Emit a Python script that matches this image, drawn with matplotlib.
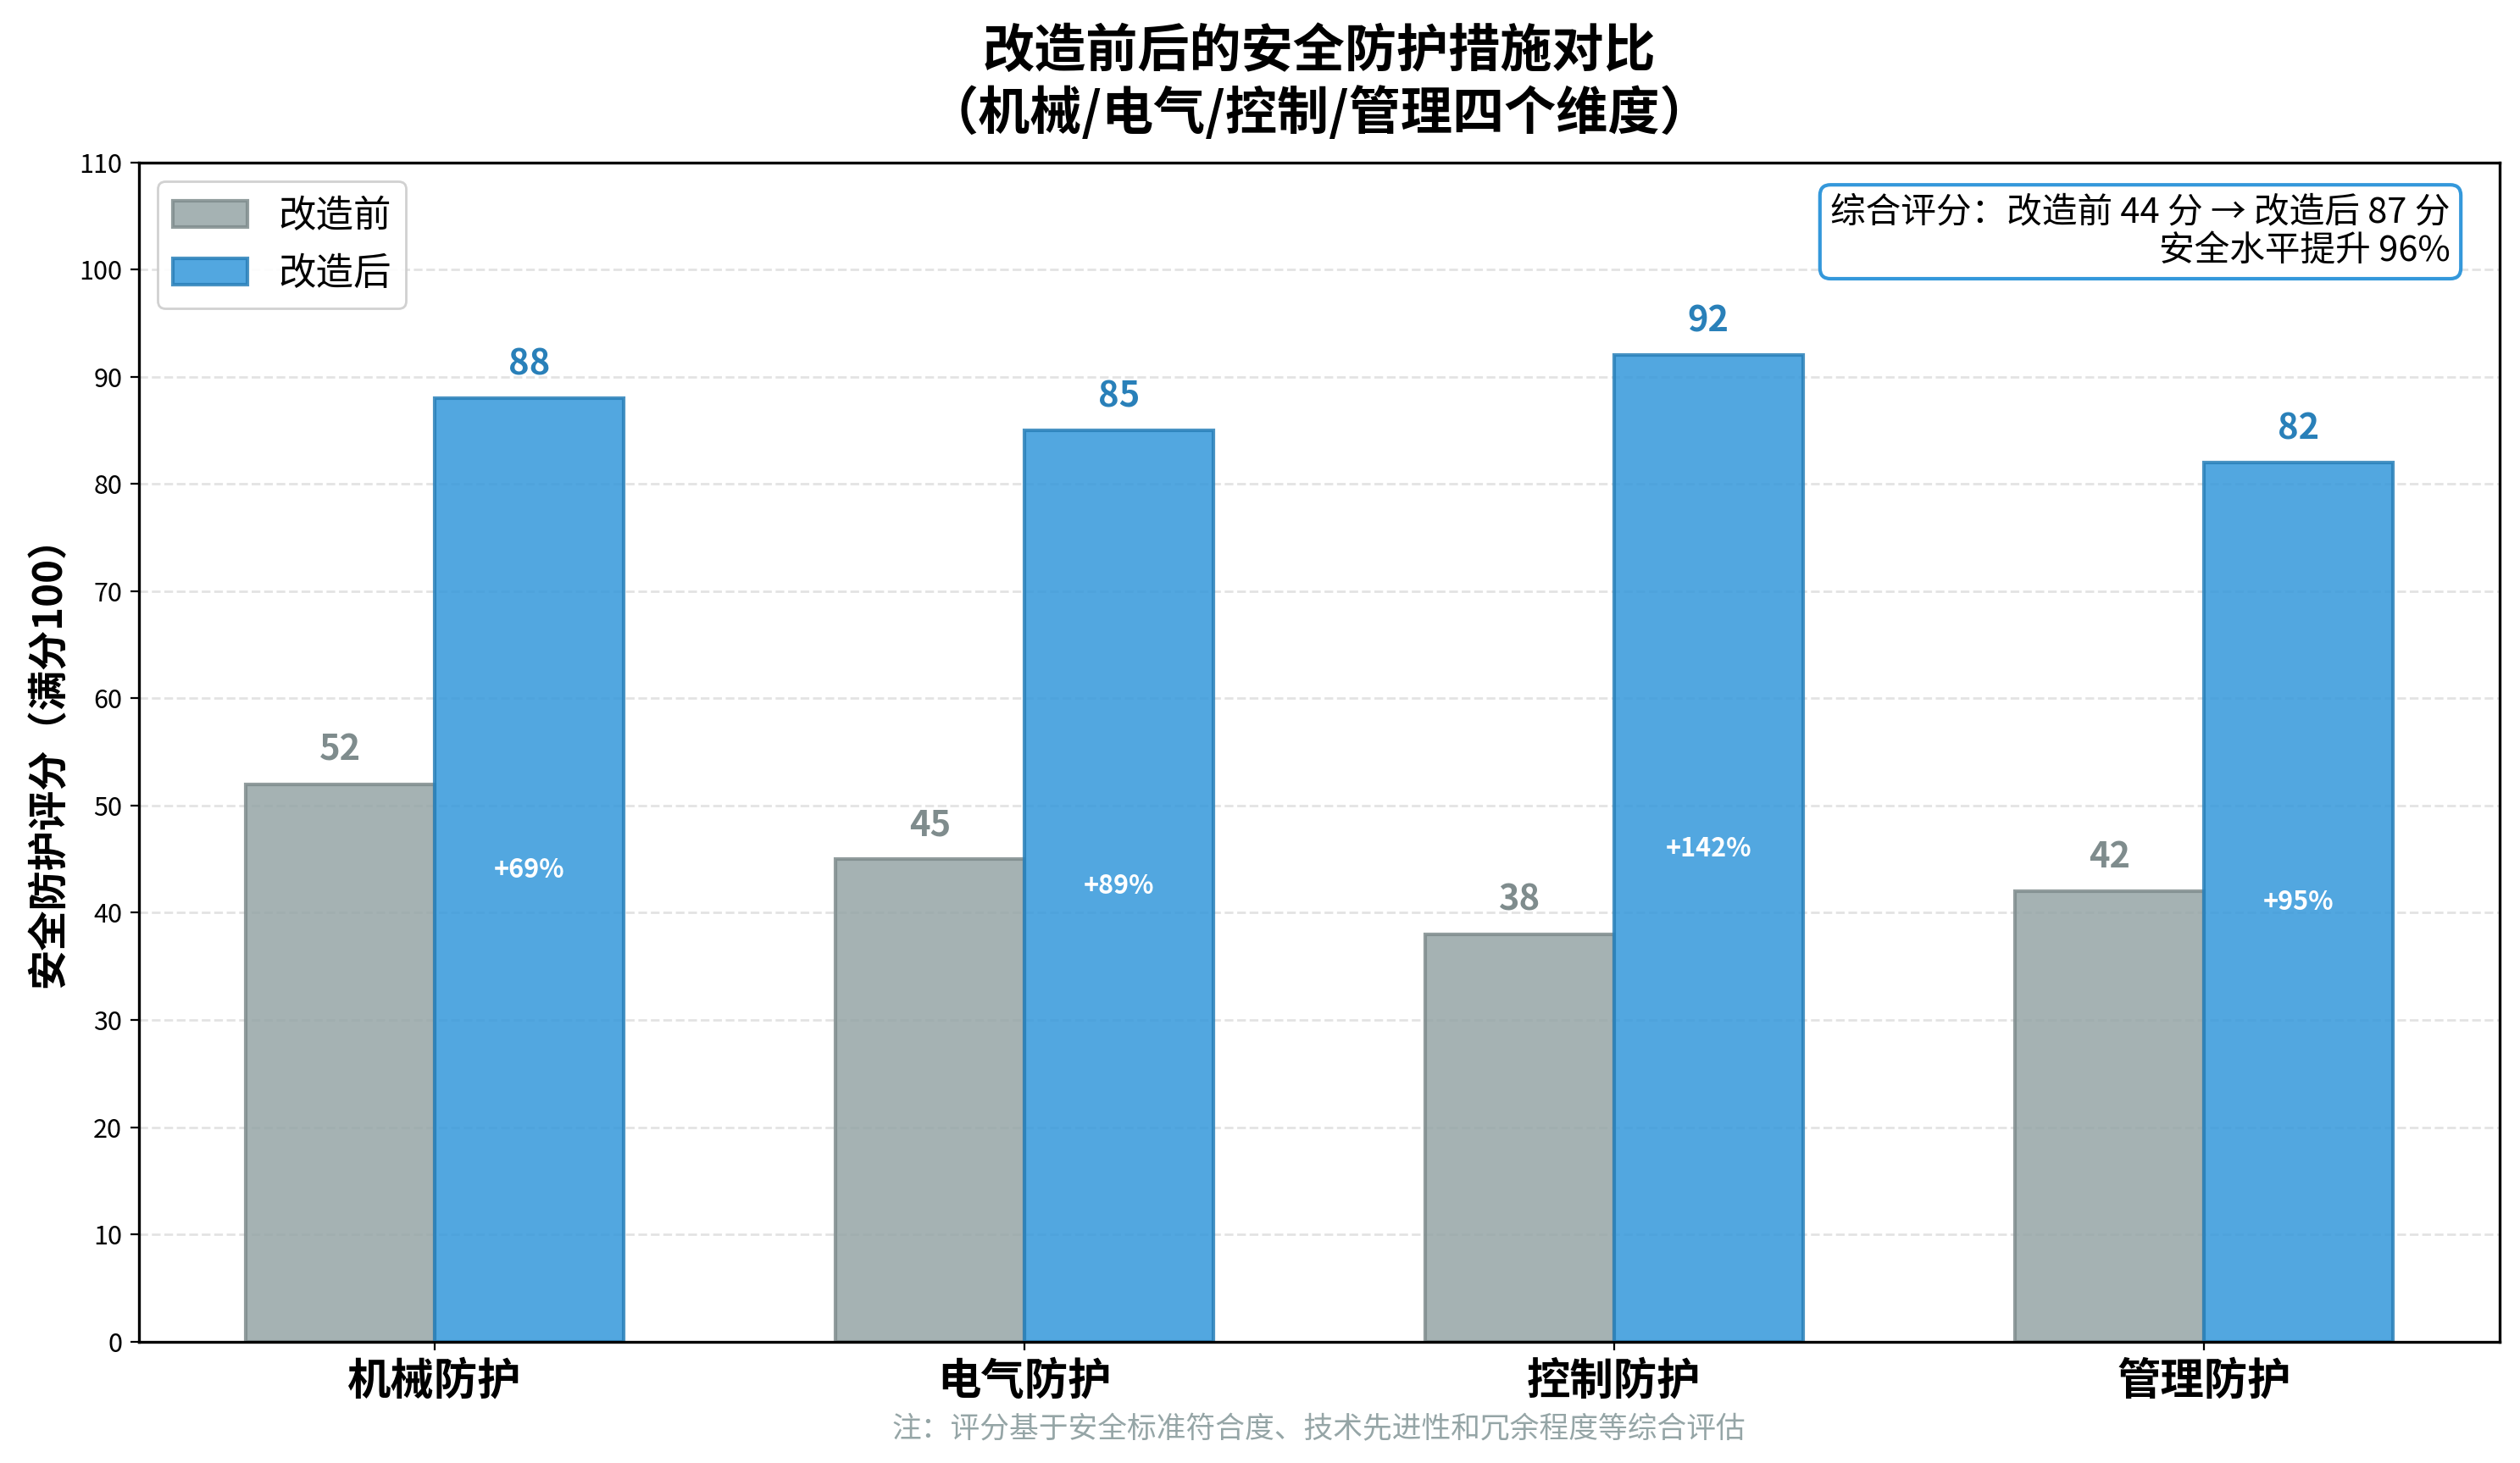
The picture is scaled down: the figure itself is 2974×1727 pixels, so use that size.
import matplotlib
matplotlib.use("Agg")
from matplotlib import pyplot as plt
import numpy as np

plt.rcParams['font.family'] = ['Noto Sans CJK SC', 'DejaVu Sans']
plt.rcParams['axes.unicode_minus'] = False

categories = ["机械防护", "电气防护", "控制防护", "管理防护"]
before = [52, 45, 38, 42]
after = [88, 85, 92, 82]
avg_before = 44
avg_after = 87
overall_gain = 96

before = np.array(before)
after = np.array(after)
gain = (after - before) / before * 100

x = np.arange(len(categories))
width = 0.32

fig, ax = plt.subplots(figsize=(14.87, 8.635), dpi=200)

b1 = ax.bar(x - width / 2, before, width, color='#95a5a6', alpha=0.85,
            edgecolor='#7f8c8d', linewidth=1.5, label='改造前')
b2 = ax.bar(x + width / 2, after, width, color='#3498db', alpha=0.85,
            edgecolor='#2980b9', linewidth=1.5, label='改造后')

# value labels
for rect, v in zip(b1, before):
    ax.text(rect.get_x() + rect.get_width() / 2, v + 1.5, f"{v}",
            ha='center', va='bottom', fontsize=15, fontweight='bold', color='#7f8c8d')
for rect, v in zip(b2, after):
    ax.text(rect.get_x() + rect.get_width() / 2, v + 1.5, f"{v}",
            ha='center', va='bottom', fontsize=15, fontweight='bold', color='#2980b9')

# improvement inside after bars
for rect, v, g in zip(b2, after, gain):
    ax.text(rect.get_x() + rect.get_width() / 2, v / 2, f"+{g:.0f}%",
            ha='center', va='center', fontsize=11, fontweight='bold', color='white')

ax.set_ylim(0, 110)
ax.set_yticks(np.arange(0, 111, 10))
ax.set_xticks(x)
ax.set_xticklabels(categories, fontsize=18.5, fontweight='bold')
ax.tick_params(axis='y', labelsize=11)
ax.set_ylabel("安全防护评分（满分100）", fontsize=17, fontweight='bold')
ax.set_title("改造前后的安全防护措施对比\n（机械/电气/控制/管理四个维度）",
             fontsize=22, fontweight='bold', pad=14)
ax.grid(axis='y', linestyle='--', color='#dddddd', alpha=0.8, linewidth=1)
ax.set_axisbelow(True)
for s in ax.spines.values():
    s.set_linewidth(1.2)

ax.legend(loc='upper left', fontsize=16, framealpha=0.9)

ax.text(0.979, 0.972,
        f"综合评分：改造前 {avg_before} 分 → 改造后 {avg_after} 分\n安全水平提升 {overall_gain}%",
        transform=ax.transAxes, ha='right', va='top', fontsize=15, linespacing=1.12,
        bbox=dict(boxstyle='round,pad=0.3', facecolor='white', edgecolor='#3498db', linewidth=1.5))

# footnote centred under the axes
ax.text(0.5, -0.075, "注：评分基于安全标准符合度、技术先进性和冗余程度等综合评估",
        transform=ax.transAxes, ha='center', va='center', fontsize=12.5, color='#95a5a6')

plt.subplots_adjust(left=0.055, right=0.992, top=0.889, bottom=0.083)
plt.savefig("out.png")
